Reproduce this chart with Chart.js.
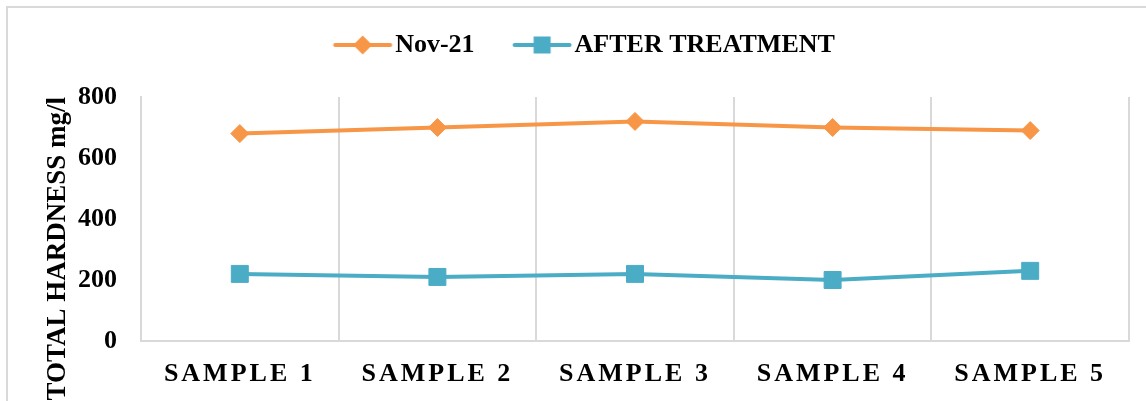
<!DOCTYPE html>
<html>
<head>
<meta charset="utf-8">
<script src="https://cdn.jsdelivr.net/npm/chart.js@4/dist/chart.umd.min.js"></script>
<style>
  html, body { margin: 0; padding: 0; background: #fff; overflow: hidden; width: 1146px; height: 401px; }
  #frame { position: absolute; left: 6px; top: 6px; width: 1200px; height: 500px; border-left: 2px solid #d9d9d9; border-top: 2px solid #d9d9d9; }
  #c { position: absolute; left: -2px; top: 0; }
</style>
</head>
<body>
<div id="frame"></div>
<canvas id="c" width="1144" height="401" style="width:1144px;height:401px"></canvas>
<script>
const categories = ['SAMPLE 1', 'SAMPLE 2', 'SAMPLE 3', 'SAMPLE 4', 'SAMPLE 5'];
const seriesNames = ['Nov-21', 'AFTER TREATMENT'];
const nov21 = [680, 700, 720, 700, 690];
const afterTreatment = [220, 210, 220, 200, 230];
const yTicks = [0, 200, 400, 600, 800];

const ORANGE = '#F79646';
const BLUE = '#4BACC6';
const FONT = "'Liberation Serif', 'Times New Roman', serif";

function legendImage(color, shape) {
  const cv = document.createElement('canvas');
  cv.width = 100; cv.height = 30;
  const g = cv.getContext('2d');
  const cy = 15, x0 = 41.5, x1 = 96.5, cx = (x0 + x1) / 2;
  g.strokeStyle = color; g.lineWidth = 4; g.lineCap = 'round';
  g.beginPath(); g.moveTo(x0, cy); g.lineTo(x1, cy); g.stroke();
  g.fillStyle = color;
  if (shape === 'diamond') {
    const r = 9.5;
    g.beginPath(); g.moveTo(cx, cy - r); g.lineTo(cx + r, cy); g.lineTo(cx, cy + r); g.lineTo(cx - r, cy); g.closePath(); g.fill();
  } else {
    const h = 8.5;
    g.fillRect(cx - h, cy - h, 2 * h, 2 * h);
  }
  return cv;
}
const legendImgs = [legendImage(ORANGE, 'diamond'), legendImage(BLUE, 'square')];

const letterSpacingPlugin = {
  id: 'xLetterSpacing',
  afterLayout(chart) {
    const s = chart.scales.x;
    if (s && !s._lsWrapped) {
      const orig = s.drawLabels;
      s.drawLabels = function (area) {
        const ctx = this.ctx;
        ctx.save();
        ctx.letterSpacing = '3px';
        orig.call(this, area);
        ctx.restore();
      };
      s._lsWrapped = true;
    }
  }
};

new Chart(document.getElementById('c'), {
  type: 'line',
  data: {
    labels: categories,
    datasets: [
      {
        label: seriesNames[0], data: nov21, xAxisID: 'x', yAxisID: 'y',
        borderColor: ORANGE, backgroundColor: ORANGE, borderWidth: 4,
        pointStyle: 'rectRot', pointRadius: 9, pointBorderWidth: 1,
        pointBackgroundColor: ORANGE, pointBorderColor: ORANGE, tension: 0
      },
      {
        label: seriesNames[1], data: afterTreatment, xAxisID: 'x', yAxisID: 'y',
        borderColor: BLUE, backgroundColor: BLUE, borderWidth: 4,
        pointStyle: 'rect', pointRadius: 12, pointBorderWidth: 1,
        pointBackgroundColor: BLUE, pointBorderColor: BLUE, tension: 0
      }
    ]
  },
  options: {
    responsive: false,
    devicePixelRatio: 1,
    animation: false,
    layout: { padding: { top: 22, left: 0, right: 0, bottom: 0 } },
    plugins: {
      tooltip: { enabled: false },
      legend: {
        position: 'top',
        align: 'center',
        labels: {
          usePointStyle: true,
          pointStyleWidth: 77,
          padding: 10,
          color: '#000',
          font: { family: FONT, size: 26, weight: 'bold' },
          generateLabels(chart) {
            const items = Chart.defaults.plugins.legend.labels.generateLabels(chart);
            items.forEach((it, i) => { it.pointStyle = legendImgs[i]; it.rotation = 0; });
            return items;
          }
        }
      }
    },
    scales: {
      x: {
        type: 'category',
        offset: true,
        grid: { display: true, offset: true, color: '#d9d9d9', lineWidth: 2, drawTicks: false },
        border: { display: true, color: '#d9d9d9', width: 2 },
        ticks: { color: '#000', padding: 18, font: { family: FONT, size: 26, weight: 'bold' }, maxRotation: 0, autoSkip: false },
        afterFit(s) { s.height = 60; s.paddingLeft = 0; s.paddingRight = 0; }
      },
      xTop: {
        type: 'category', position: 'top', display: true, offset: true,
        grid: { display: false, drawTicks: false },
        border: { display: false },
        ticks: { display: false },
        afterFit(s) { s.height = 29; s.paddingLeft = 0; s.paddingRight = 0; }
      },
      y: {
        min: yTicks[0], max: yTicks[yTicks.length - 1],
        afterBuildTicks(s) { s.ticks = yTicks.map(v => ({ value: v })); },
        grid: { display: false, drawTicks: false },
        border: { display: true, color: '#d9d9d9', width: 2 },
        ticks: { color: '#000', padding: 24, font: { family: FONT, size: 26, weight: 'bold' } },
        title: {
          display: true, text: 'TOTAL HARDNESS mg/l', align: 'end', color: '#000',
          padding: { top: 44, bottom: 0 },
          font: { family: FONT, size: 27, weight: 'bold' }
        },
        afterFit(s) { s.width = 143; }
      }
    }
  },
  plugins: [letterSpacingPlugin]
});
</script>
</body>
</html>
